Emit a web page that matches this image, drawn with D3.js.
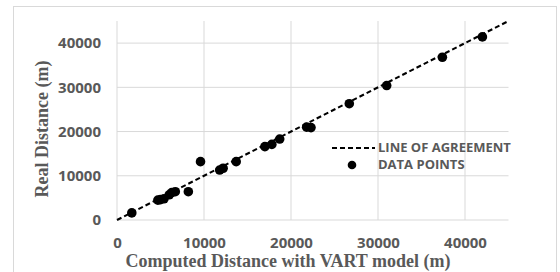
<!DOCTYPE html>
<html>
<head>
<meta charset="utf-8">
<script src="https://cdn.jsdelivr.net/npm/d3@7"></script>
<style>
  body { margin: 0; background: #fff; }
  .tick text { font-family: "Open Sans", sans-serif; font-weight: bold; font-size: 15px; fill: #595959; }
  .axisTitle { font-family: "Liberation Serif", "Times New Roman", serif; font-weight: bold; font-size: 18px; fill: #595959; }
  .legend text { font-family: "Open Sans", sans-serif; font-weight: bold; font-size: 13px; fill: #595959; }
</style>
</head>
<body>
<div id="chart"></div>
<script>
// computed distance (x) vs real distance (y), metres
let computedDist = [1700, 4700, 5000, 5400, 6000, 6300, 6700, 8200, 9600, 11800, 12200, 13700,
    17000, 17800, 18700, 21800, 22300, 26700, 31000, 37400, 42000];
let realDist = [1600, 4500, 4600, 4800, 5700, 6200, 6400, 6400, 13200, 11300, 11700, 13200,
    16600, 17100, 18300, 21000, 20900, 26300, 30400, 36800, 41400];
let ticks = [0, 10000, 20000, 30000, 40000];
let legendLabels = ["LINE OF AGREEMENT", "DATA POINTS"];

let data = computedDist.map((d, i) => ({x: d, y: realDist[i]}));

let width = 560, height = 272;
let margin = {top: 21, right: 51.5, bottom: 52, left: 117};
let w = width - margin.left - margin.right;
let h = height - margin.top - margin.bottom;

let svg = d3.select("#chart").append("svg")
    .attr("width", width)
    .attr("height", height);

// outer frame
svg.append("rect")
    .attr("x", 13.5).attr("y", 6.5)
    .attr("width", 543).attr("height", 280)
    .attr("fill", "none")
    .attr("stroke", "#d9d9d9");

let g = svg.append("g")
    .attr("transform", "translate(" + margin.left + "," + margin.top + ")");

let x = d3.scaleLinear().domain([0, 45000]).range([0, w]);
let y = d3.scaleLinear().domain([0, 45000]).range([h, 0]);

// gridlines
g.append("g").selectAll("line.v").data(ticks).join("line")
    .attr("x1", d => x(d)).attr("x2", d => x(d))
    .attr("y1", 0).attr("y2", h)
    .attr("stroke", "#d9d9d9");
g.append("g").selectAll("line.h").data(ticks).join("line")
    .attr("x1", 0).attr("x2", w)
    .attr("y1", d => y(d)).attr("y2", d => y(d))
    .attr("stroke", "#d9d9d9");

// axes (labels only)
g.append("g")
    .attr("transform", "translate(0," + h + ")")
    .call(d3.axisBottom(x).tickValues(ticks).tickFormat(d3.format("d")).tickSize(0).tickPadding(17))
    .call(a => a.select(".domain").remove());
g.append("g")
    .call(d3.axisLeft(y).tickValues(ticks).tickFormat(d3.format("d")).tickSize(0).tickPadding(16))
    .call(a => a.select(".domain").remove());

// axis titles
svg.append("text")
    .attr("class", "axisTitle")
    .attr("x", 288).attr("y", 267)
    .attr("text-anchor", "middle")
    .text("Computed Distance with VART model (m)");
svg.append("text")
    .attr("class", "axisTitle")
    .attr("transform", "translate(48,129) rotate(-90)")
    .attr("text-anchor", "middle")
    .text("Real Distance (m)");

// line of agreement
g.append("line")
    .attr("x1", x(0)).attr("y1", y(0))
    .attr("x2", x(45000)).attr("y2", y(45000))
    .attr("stroke", "#000")
    .attr("stroke-width", 2)
    .attr("stroke-dasharray", "5,3");

// data points
g.append("g").selectAll("circle").data(data).join("circle")
    .attr("cx", d => x(d.x))
    .attr("cy", d => y(d.y))
    .attr("r", 4.8)
    .attr("fill", "#000");

// legend
let legend = svg.append("g").attr("class", "legend");
legend.append("line")
    .attr("x1", 332).attr("x2", 375)
    .attr("y1", 148).attr("y2", 148)
    .attr("stroke", "#000").attr("stroke-width", 2)
    .attr("stroke-dasharray", "5,3");
legend.append("circle")
    .attr("cx", 352).attr("cy", 165).attr("r", 4.3)
    .attr("fill", "#000");
legend.selectAll("text").data(legendLabels).join("text")
    .attr("x", 378)
    .attr("y", (d, i) => 152 + i * 16.5)
    .text(d => d);
</script>
</body>
</html>
